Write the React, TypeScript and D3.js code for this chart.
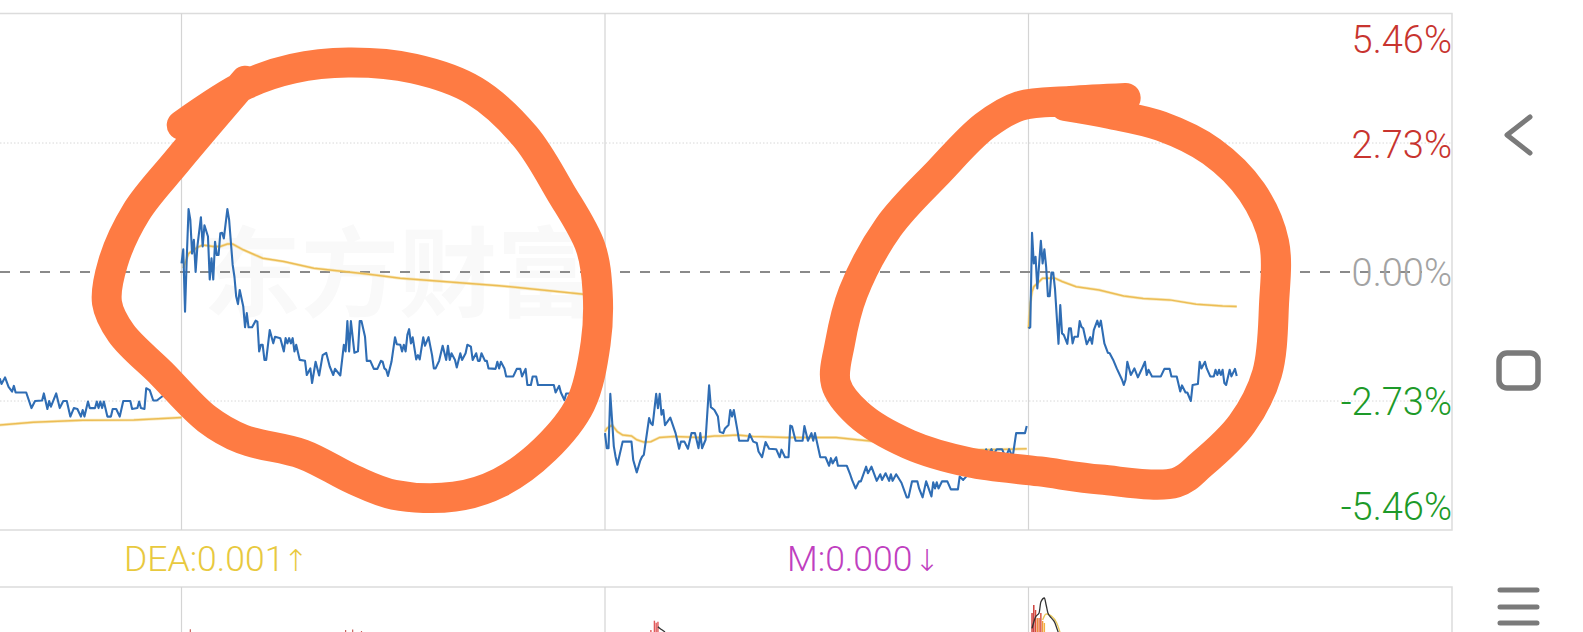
import React from "react";
import * as d3 from "d3";

type P = [number, number];

// Each pair: [minute of the session, % change]
const day0Price: P[] = [[137,-2.25],[138,-2.37],[140,-2.23],[142,-2.43],[144,-2.53],[145,-2.41],[146,-2.55],[152,-2.55],[155,-2.88],[157,-2.73],[161,-2.72],[162,-2.57],[164,-2.90],[165,-2.73],[166,-2.85],[169,-2.57],[171,-2.88],[173,-2.73],[175,-2.73],[177,-3.06],[179,-2.88],[181,-2.90],[183,-3.06],[184,-2.92],[185,-3.06],[187,-2.74],[188,-2.88],[191,-2.88],[192,-2.74],[193,-2.88],[194,-2.74],[195,-2.88],[196,-2.74],[198,-3.06],[200,-3.06],[201,-2.90],[203,-2.90],[205,-3.06],[207,-2.73],[211,-2.73],[212,-2.90],[215,-2.88],[216,-2.74],[217,-2.88],[219,-2.90],[220,-2.46],[222,-2.50],[224,-2.72],[226,-2.72],[232,-2.55],[240,-2.50]];
const day0Avg: P[] = [[137,-3.24],[156,-3.18],[184,-3.14],[213,-3.13],[235,-3.09],[240,-3.08]];

const day1Price: P[] = [[0,0.18],[1,0.48],[2,-0.84],[3,0.32],[4,1.33],[5,1.10],[6,0.39],[7,0.68],[8,0],[9,0.54],[11,1.16],[12,0.54],[13,0.99],[15,0.75],[16,-0.16],[17,0.29],[18,-0.16],[19,0.64],[20,0.36],[21,0.36],[22,0.82],[23,0.83],[24,0.71],[26,1.33],[27,1.10],[29,0.15],[30,-0.10],[31,-0.52],[32,-0.68],[33,-0.38],[35,-0.73],[36,-1.17],[37,-0.87],[38,-1.17],[40,-1.17],[42,-1.03],[43,-1.05],[44,-1.68],[45,-1.54],[46,-1.54],[47,-1.86],[48,-1.86],[50,-1.23],[52,-1.51],[53,-1.37],[56,-1.40],[58,-1.68],[59,-1.40],[60,-1.51],[61,-1.40],[62,-1.51],[63,-1.40],[64,-1.68],[65,-1.54],[67,-1.86],[70,-1.88],[71,-2.18],[73,-2.04],[74,-2.35],[76,-1.90],[78,-2.19],[80,-1.76],[82,-1.71],[84,-2.00],[86,-2.18],[87,-2.05],[90,-2.19],[92,-1.54],[93,-1.68],[94,-1.04],[95,-1.68],[96,-1.04],[98,-1.71],[100,-1.68],[101,-1.04],[102,-1.04],[104,-1.37],[105,-1.88],[107,-1.88],[109,-2.05],[111,-2.05],[113,-1.88],[114,-1.90],[115,-2.04],[116,-2.07],[117,-2.20],[119,-1.90],[121,-1.38],[122,-1.53],[124,-1.54],[125,-1.68],[126,-1.54],[127,-1.68],[128,-1.33],[129,-1.21],[130,-1.51],[131,-1.38],[133,-1.85],[134,-1.76],[135,-1.85],[137,-1.38],[138,-1.56],[140,-1.38],[142,-1.76],[143,-2.04],[144,-2.04],[146,-1.88],[148,-1.56],[150,-1.86],[151,-1.56],[152,-1.86],[153,-1.72],[155,-1.86],[156,-2.02],[158,-1.72],[159,-1.86],[161,-1.72],[162,-1.54],[164,-1.58],[165,-1.86],[167,-1.72],[168,-1.88],[169,-1.88],[170,-1.72],[172,-1.88],[173,-1.88],[174,-2.04],[178,-2.05],[179,-1.90],[180,-2.04],[181,-1.90],[183,-2.04],[184,-2.21],[188,-2.21],[190,-2.05],[192,-2.05],[193,-2.21],[195,-2.05],[196,-2.39],[198,-2.39],[199,-2.21],[201,-2.21],[202,-2.39],[211,-2.39],[212,-2.55],[214,-2.41],[215,-2.55],[217,-2.71],[218,-2.57],[220,-2.57],[221,-2.71],[222,-2.57],[225,-2.62]];
const day1Avg: P[] = [[1,0.08],[4,0.39],[9,0.52],[12,0.57],[18,0.54],[22,0.54],[26,0.59],[29,0.59],[35,0.47],[46,0.29],[58,0.22],[75,0.08],[92,0.01],[105,-0.04],[124,-0.13],[180,-0.29],[228,-0.47]];

const day2Price: P[] = [[0,-3.41],[1,-3.73],[2,-3.73],[3,-2.58],[5,-3.69],[6,-3.91],[7,-4.08],[10,-3.59],[15,-3.59],[16,-3.98],[18,-4.24],[20,-3.99],[21,-3.91],[22,-3.87],[25,-3.09],[26,-3.20],[27,-3.24],[29,-2.58],[30,-2.88],[31,-2.58],[32,-3.02],[33,-2.92],[34,-3.24],[37,-3.08],[40,-3.41],[42,-3.74],[43,-3.59],[45,-3.59],[47,-3.74],[49,-3.41],[51,-3.41],[53,-3.73],[54,-3.41],[55,-3.73],[57,-3.55],[59,-2.40],[60,-2.86],[62,-2.92],[64,-3.06],[65,-3.38],[67,-3.41],[68,-3.31],[70,-3.24],[71,-2.92],[72,-3.06],[73,-2.92],[75,-3.34],[76,-3.57],[81,-3.57],[82,-3.43],[84,-3.59],[86,-3.62],[87,-3.80],[89,-3.92],[91,-3.60],[93,-3.74],[97,-3.75],[99,-3.92],[100,-3.76],[102,-3.92],[104,-3.92],[105,-3.25],[106,-3.27],[108,-3.57],[112,-3.57],[113,-3.26],[115,-3.57],[117,-3.41],[118,-3.57],[119,-3.41],[121,-3.75],[122,-3.92],[125,-3.92],[127,-4.10],[128,-3.94],[129,-4.05],[131,-3.92],[132,-4.10],[137,-4.10],[139,-4.29],[140,-4.40],[142,-4.58],[144,-4.43],[145,-4.43],[148,-4.12],[149,-4.26],[151,-4.12],[154,-4.42],[156,-4.28],[157,-4.40],[159,-4.26],[161,-4.42],[162,-4.28],[163,-4.42],[165,-4.28],[168,-4.46],[171,-4.77],[172,-4.77],[174,-4.43],[177,-4.43],[178,-4.58],[180,-4.77],[182,-4.43],[185,-4.75],[186,-4.45],[187,-4.58],[188,-4.45],[189,-4.58],[191,-4.43],[194,-4.43],[196,-4.60],[200,-4.60],[201,-4.33],[203,-4.40],[215,-3.91],[216,-3.75],[217,-3.87],[219,-3.75],[220,-3.87],[222,-3.75],[225,-3.75],[227,-3.92],[229,-3.75],[231,-3.92],[233,-3.41],[238,-3.41],[239,-3.26]];
const day2Avg: P[] = [[0,-3.38],[1,-3.31],[4,-3.24],[7,-3.38],[10,-3.45],[15,-3.47],[18,-3.55],[22,-3.60],[26,-3.59],[31,-3.50],[39,-3.48],[47,-3.49],[54,-3.50],[62,-3.47],[65,-3.47],[75,-3.45],[84,-3.48],[103,-3.50],[131,-3.50],[143,-3.55],[203,-3.76],[216,-3.76],[239,-3.74]];

const day3Price: P[] = [[0,-1.19],[1,-1.17],[2,0.83],[3,0.18],[4,0.32],[5,-0.35],[7,0.66],[8,0.18],[9,0.48],[10,0.11],[11,-0.51],[12,-0.51],[13,-0.01],[14,-0.01],[15,-0.35],[17,-1.52],[18,-0.70],[19,-1.30],[20,-1.33],[22,-1.52],[23,-1.19],[24,-1.19],[25,-1.51],[26,-1.37],[28,-1.37],[29,-1.04],[30,-1.16],[31,-1.19],[33,-1.53],[35,-1.38],[36,-1.52],[37,-1.23],[39,-1.03],[40,-1.16],[41,-1.03],[43,-1.51],[45,-1.71],[46,-1.72],[48,-1.86],[50,-2.04],[53,-2.28],[54,-2.39],[55,-2.28],[56,-1.90],[58,-2.18],[60,-2.04],[62,-2.23],[64,-2.07],[66,-1.90],[67,-2.18],[68,-2.07],[70,-2.21],[75,-2.21],[77,-2.05],[80,-2.05],[81,-2.21],[84,-2.21],[86,-2.53],[87,-2.40],[89,-2.55],[90,-2.55],[92,-2.73],[93,-2.39],[96,-2.37],[97,-1.90],[98,-2.04],[100,-1.90],[101,-2.04],[103,-2.21],[105,-2.21],[106,-2.07],[107,-2.18],[108,-2.07],[109,-2.18],[110,-2.07],[111,-2.35],[112,-2.39],[114,-2.07],[115,-2.21],[117,-2.05],[118,-2.20]];
const day3Avg: P[] = [[0,-1.19],[1,-0.66],[2,-0.42],[3,-0.31],[5,-0.24],[8,-0.13],[15,-0.13],[19,-0.20],[27,-0.31],[40,-0.38],[54,-0.51],[65,-0.56],[80,-0.59],[95,-0.68],[110,-0.72],[118,-0.73]];

const sessions = [
  { day: 0, price: day0Price, avg: day0Avg },
  { day: 1, price: day1Price, avg: day1Avg },
  { day: 2, price: day2Price, avg: day2Avg },
  { day: 3, price: day3Price, avg: day3Avg },
];

const yTicks = [5.46, 2.73, 0, -2.73, -5.46];
const yTickLabels = ["5.46%", "2.73%", "0.00%", "-2.73%", "-5.46%"];
const yTickColors = ["#c8342f", "#c8342f", "#a3a3a3", "#1d9a29", "#1d9a29"];
const sessionBreaks = [1, 2, 3];

// Lower MACD panel (thousandths)
const macdDif: P[] = [[2,3.7],[4,15],[6,19],[7,30],[9,34],[10,27],[11,19],[13,14],[15,9],[16,4],[17,-1]];
const macdDea: P[] = [[8,12],[10,18],[13,16],[16,9],[18,-1]];
const macdBars: P[] = [[2,19],[3,27],[4,22],[5,14],[6,14],[7,19],[8,11],[9,9]];
const macdBarColors = ["#c8342f", "#c8342f", "#d84a3a", "#ee8a3c", "#e86a3a", "#d84a3a", "#f09a3c", "#f3b040"];
const day2MacdBars: P[] = [[26,2],[28,11.3],[29,9.3],[30,10.3]];
const day2MacdDif: P[] = [[30,5.3],[31,3.7],[33,1.3],[34,0]];
const day1MacdBars: P[] = [[5,2.7],[93,2],[97,2.4],[102,1]];

// Hand-drawn marker strokes, as sketched on the 1568x626 view
const marker1: P[] = [[180,124],[243,84],[290,68],[345,62],[410,68],[470,90],[520,135],[555,190],[585,245],[592,290],[590,340],[575,400],[540,445],[495,478],[450,492],[390,490],[350,475],[300,450],[240,435],[205,415],[160,370],[120,330],[106,300],[112,260],[135,210],[175,160],[243,80]];
const marker2: P[] = [[1115,97],[1060,100],[1010,105],[975,125],[930,170],[880,225],[845,290],[832,340],[828,380],[850,410],[900,440],[960,458],[1030,467],[1090,475],[1165,478],[1190,460],[1230,420],[1255,370],[1262,300],[1262,240],[1240,190],[1200,150],[1150,125],[1100,113],[1055,105]];

const W = 1583, H = 632;
const frameRight = 1452, frameTop = 13.5, frameBottom = 530, lowerTop = 587;
const MIN_PER_DAY = 240;

const x = d3.scaleLinear().domain([0, 4 * MIN_PER_DAY]).range([-242, frameRight]);
const y = d3.scaleLinear().domain([5.46, -5.46]).range([14, 530]);
const yM = d3.scaleLinear().domain([0, 47]).range([632, 585]);
const sx = d3.scaleLinear().domain([0, 1568]).range([0, W]);
const sy = d3.scaleLinear().domain([0, 626]).range([0, H]);

const priceLine = (day: number) =>
  d3.line<P>().x((d) => x(day * MIN_PER_DAY + d[0])).y((d) => y(d[1]));
const macdLine = (day: number) =>
  d3.line<P>().x((d) => x(day * MIN_PER_DAY + d[0])).y((d) => yM(d[1])).curve(d3.curveMonotoneX);
const markerLine = d3.line<P>().x((d) => sx(d[0])).y((d) => sy(d[1])).curve(d3.curveCatmullRom.alpha(0.5));

const font = "Roboto, sans-serif";
const arrowFont = "'DejaVu Sans'";

export default function App() {
  return (
    <svg width={W} height={H} viewBox={`0 0 ${W} ${H}`} style={{ position: "fixed", left: 0, top: 0, background: "#fff", display: "block" }}>
      <defs>
        <clipPath id="lower"><rect x={0} y={lowerTop} width={frameRight} height={H - lowerTop} /></clipPath>
      </defs>

      <text x={399} y={309} textAnchor="middle" fontFamily="'Noto Sans CJK SC'" fontWeight={700} fontSize={98} fill="#f9f9f9">东方财富</text>

      <path d={`M0,${frameTop}H${frameRight}V${frameBottom}H0`} fill="none" stroke="#dcdcdc" strokeWidth={1.5} />
      <path d={`M0,${lowerTop}H${frameRight}V${H}`} fill="none" stroke="#dcdcdc" strokeWidth={1.5} />
      {sessionBreaks.map((b) => (
        <g key={b}>
          <line x1={x(b * MIN_PER_DAY)} x2={x(b * MIN_PER_DAY)} y1={frameTop} y2={frameBottom} stroke="#d4d4d4" strokeWidth={1.2} />
          <line x1={x(b * MIN_PER_DAY)} x2={x(b * MIN_PER_DAY)} y1={lowerTop} y2={H} stroke="#d4d4d4" strokeWidth={1.2} />
        </g>
      ))}
      {[2.73, -2.73].map((t) => (
        <line key={t} x1={0} x2={frameRight} y1={y(t)} y2={y(t)} stroke="#d8d8d8" strokeWidth={1} strokeDasharray="1.5 2" />
      ))}
      <line x1={0} x2={1422} y1={y(0)} y2={y(0)} stroke="#8a8a8a" strokeWidth={2} strokeDasharray="10 10" />

      {sessions.map((s) => (
        <g key={s.day} fill="none">
          <path d={priceLine(s.day)(s.avg) ?? ""} stroke="#f5d98c" strokeWidth={3} opacity={0.6} />
          <path d={priceLine(s.day)(s.avg) ?? ""} stroke="#ecbd55" strokeWidth={1.5} />
          <path d={priceLine(s.day)(s.price) ?? ""} stroke="#2f6db4" strokeWidth={2.1} strokeLinejoin="round" />
        </g>
      ))}

      {yTicks.map((t, i) => (
        <text key={t} x={frameRight} y={[53, 158, 286, 415, 520][i]} textAnchor="end" fontFamily={font} fontWeight={300} fontSize={38} fill={yTickColors[i]}>
          {yTickLabels[i]}
        </text>
      ))}

      <text x={124} y={571} fontFamily={font} fontWeight={300} fontSize={35.5} fill="#e8c93e">DEA:0.001<tspan fontFamily={arrowFont} fontSize={30} dx={-1}>↑</tspan></text>
      <text x={787} y={571} fontFamily={font} fontWeight={300} fontSize={35.5} fill="#c03fc0">M:0.000<tspan fontFamily={arrowFont} fontSize={30} dx={2}>↓</tspan></text>

      <g clipPath="url(#lower)">
        {macdBars.map((d, i) => (
          <line key={i} x1={x(3 * MIN_PER_DAY + d[0])} x2={x(3 * MIN_PER_DAY + d[0])} y1={yM(0)} y2={yM(d[1])} stroke={macdBarColors[i]} strokeWidth={1.4} />
        ))}
        {day2MacdBars.map((d, i) => (
          <line key={i} x1={x(2 * MIN_PER_DAY + d[0])} x2={x(2 * MIN_PER_DAY + d[0])} y1={yM(0)} y2={yM(d[1])} stroke="#e0595a" strokeWidth={1.4} />
        ))}
        {day1MacdBars.map((d, i) => (
          <line key={i} x1={x(1 * MIN_PER_DAY + d[0])} x2={x(1 * MIN_PER_DAY + d[0])} y1={yM(0)} y2={yM(d[1])} stroke="#c8605a" strokeWidth={1.2} />
        ))}
        <path d={macdLine(3)(macdDea) ?? ""} fill="none" stroke="#e9c85a" strokeWidth={1.3} />
        <path d={macdLine(3)(macdDif) ?? ""} fill="none" stroke="#333" strokeWidth={1.3} />
        <path d={macdLine(2)(day2MacdDif) ?? ""} fill="none" stroke="#333" strokeWidth={1.3} />
      </g>

      <g fill="none" stroke="#fe7b43" strokeWidth={30} strokeLinecap="round" strokeLinejoin="round">
        <path d={markerLine(marker1) ?? ""} />
        <path d={markerLine(marker2) ?? ""} />
      </g>

      <g fill="none" stroke="#7a7a7a" strokeLinecap="round" strokeLinejoin="round">
        <path d="M1530,117 L1507,135 L1530,153" strokeWidth={5} />
        <rect x={1499} y={353} width={39} height={35} rx={8} strokeWidth={5.5} />
        <path d="M1500,590H1537M1500,607H1537M1500,623H1537" strokeWidth={5} />
      </g>
    </svg>
  );
}
